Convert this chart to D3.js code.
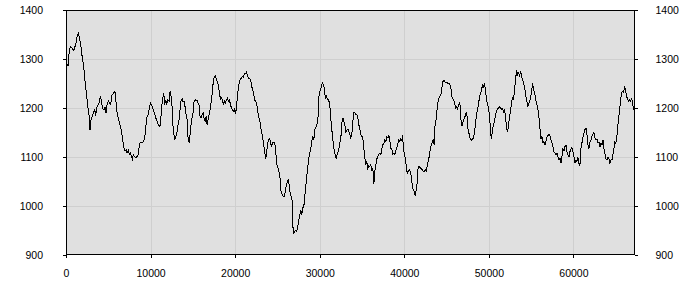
<!DOCTYPE html>
<html>
<head>
<meta charset="utf-8">
<script src="https://cdn.jsdelivr.net/npm/d3@7"></script>
<style>
  body { margin: 0; background: #fff; }
  svg { display: block; }
  .axis text { font-family: "Liberation Sans", Arial, sans-serif; font-size: 10.5px; fill: #000; }
  .axis line { stroke: #000; }
  .axis path { display: none; }
</style>
</head>
<body>
<div id="chart"></div>
<script>
// x positions of the samples
const positions = [
    0, 240, 400, 560, 755, 910, 1150, 1300, 1465, 1620, 1775, 1940, 2095, 2250, 2410, 2565, 2720, 2840,
    2961, 3119, 3277, 3395, 3513, 3592, 3750, 3908, 4065, 4184, 4341, 4499, 4617, 4736, 4854, 5012,
    5169, 5288, 5445, 5564, 5721, 5840, 5958, 6116, 6273, 6431, 6589, 6707, 6865, 6983, 7102, 7220,
    7378, 7496, 7614, 7732, 7851, 7969, 8087, 8245, 8403, 8560, 8679, 8837, 9034, 9191, 9310, 9428,
    9546, 9704, 9862, 9980, 10138, 10295, 10453, 10611, 10769, 10926, 11084,
    11163, 11281, 11439, 11557, 11676, 11794, 11912, 12031, 12188, 12307, 12425, 12543, 12622, 12740,
    12859, 12977, 13095, 13214, 13371, 13490, 13608, 13726, 13844, 13963, 14081, 14199, 14318, 14436,
    14554, 14672, 14791, 14909, 15027, 15146, 15264, 15382, 15500, 15619, 15737, 15855, 15974, 16092,
    16210, 16329, 16447, 16565, 16683, 16802, 16920, 17078, 17196, 17314, 17433, 17551, 17669, 17787,
    17906, 18024, 18142, 18261, 18379, 18497, 18616, 18734, 18852, 18970, 19089, 19207, 19325, 19444,
    19562, 19680, 19798, 19917, 20035, 20153, 20272, 20390, 20508, 20627, 20745, 20863, 20981, 21100,
    21218, 21336, 21455, 21573, 21691, 21809, 21928, 22046, 22164, 22283, 22401,
    22442, 22560, 22678, 22797, 22915, 23033, 23152, 23270, 23388, 23506, 23585, 23703, 23822, 23940,
    24058, 24177, 24295, 24413, 24531, 24650, 24768, 24886, 25005, 25123, 25241, 25359, 25438, 25557,
    25675, 25793, 25912, 26030, 26148, 26266, 26385, 26503, 26621, 26740, 26818, 26937, 27055, 27173,
    27292, 27410, 27528, 27646, 27765, 27883, 28001, 28120, 28238, 28356, 28474, 28593, 28711, 28829,
    28948, 29066, 29184, 29302, 29421, 29539, 29657, 29776, 29854, 29933, 30091, 30209, 30327, 30446,
    30564, 30682, 30801, 30919, 31037, 31155, 31274, 31353, 31471, 31589, 31708, 31826, 31944, 32063,
    32181, 32299, 32417, 32536, 32615, 32733, 32851, 32969, 33088, 33206, 33324, 33443, 33561, 33679,
    33798, 33916, 34034, 34153, 34271, 34389, 34508, 34626, 34744, 34862, 34981, 35099, 35217, 35336,
    35454, 35572, 35690, 35809, 35927, 36045, 36164, 36282, 36400, 36518, 36637, 36755, 36873, 36992,
    37110, 37228, 37346, 37465, 37583, 37701, 37820, 37938, 38056, 38175, 38293, 38411, 38529, 38648,
    38766, 38884, 39003, 39121, 39239, 39357, 39476, 39594, 39712, 39791, 39870, 39988, 40107, 40225,
    40343, 40462, 40580, 40698, 40816, 40935, 41053, 41171, 41290, 41408, 41526, 41644, 41763, 41881,
    41999, 42118, 42236, 42354, 42472, 42591, 42709, 42827, 42946, 43064, 43182, 43301, 43419, 43537,
    43616, 43734, 43853, 43971, 44089, 44207, 44326, 44444, 44562, 44681, 44799,
    44919, 45037, 45155, 45273, 45392, 45510, 45589, 45707, 45825, 45944, 46062, 46180, 46299, 46417,
    46535, 46654, 46732, 46851, 46969, 47087, 47206, 47324, 47442, 47521, 47639, 47758, 47876, 47994,
    48112, 48231, 48349, 48467, 48586, 48704, 48822, 48940, 49059, 49177, 49295, 49414, 49492, 49611,
    49729, 49847, 49966, 50084, 50202, 50320, 50439, 50557, 50675, 50794, 50912, 51030, 51149, 51267,
    51385, 51503, 51622, 51740, 51858, 51977, 52095, 52213, 52331, 52450, 52568, 52686, 52805, 52923,
    53041, 53160, 53278, 53396, 53514, 53633, 53751, 53869, 53988, 54106, 54224, 54343, 54461, 54579,
    54697, 54816, 54934, 55052, 55171, 55289, 55407, 55526, 55644, 55762, 55880, 55999, 56117,
    56158, 56276, 56394, 56512, 56631, 56749, 56867, 56986, 57104, 57222, 57340, 57459, 57577, 57695,
    57814, 57932, 58050, 58169, 58287, 58405, 58523, 58642, 58760, 58878, 58997, 59115, 59233, 59351,
    59470, 59588, 59706, 59825, 59943, 60061, 60180, 60298, 60416, 60534, 60653, 60771, 60889, 61008,
    61126, 61244, 61362, 61481, 61599, 61717, 61836, 61954, 62072, 62191, 62309, 62427, 62545, 62664,
    62782, 62900, 63019, 63137, 63255, 63373, 63492, 63610, 63728, 63847, 63965, 64083, 64202, 64320,
    64438, 64556, 64675, 64793, 64872, 64990, 65109, 65227, 65345, 65463, 65582, 65700, 65818, 65937,
    66055, 66173, 66292, 66410, 66528, 66647, 66765, 66883, 67001, 67080, 67159, 67198
];

// sample values
const values = [
    1292, 1287, 1319, 1325, 1322, 1317, 1330, 1345, 1352, 1340, 1325, 1300, 1285, 1255, 1230, 1205, 1185, 1155,
    1176, 1183, 1193, 1197, 1183, 1200, 1205, 1210, 1225, 1214, 1198, 1197, 1202, 1190, 1207, 1214,
    1210, 1207, 1227, 1229, 1233, 1232, 1200, 1183, 1173, 1163, 1149, 1135, 1118, 1112, 1115, 1108,
    1114, 1105, 1108, 1101, 1095, 1105, 1101, 1098, 1101, 1105, 1127, 1130, 1130, 1132, 1139, 1159,
    1180, 1186, 1200, 1210, 1205, 1197, 1190, 1180, 1173, 1166, 1163,
    1164, 1197, 1220, 1231, 1207, 1217, 1207, 1217, 1214, 1234, 1224, 1203, 1169, 1149,
    1135, 1142, 1146, 1163, 1176, 1197, 1216, 1219, 1212, 1214, 1202, 1186, 1176, 1139,
    1129, 1146, 1166, 1180, 1190, 1214, 1217, 1214, 1216, 1210, 1205, 1183, 1180, 1186,
    1190, 1178, 1173, 1183, 1166, 1176, 1186, 1200, 1217, 1234, 1258, 1263, 1266, 1258,
    1252, 1247, 1231, 1218, 1220, 1217, 1207, 1214, 1210, 1217, 1220, 1214, 1217, 1207,
    1200, 1197, 1193, 1197, 1188, 1200, 1224, 1244, 1254, 1259, 1261, 1265, 1263, 1270,
    1270, 1273, 1266, 1261, 1261, 1258, 1248, 1237, 1234, 1217, 1214,
    1214, 1207, 1193, 1180, 1176, 1159, 1149, 1139, 1122, 1112, 1096, 1105, 1125, 1135,
    1137, 1132, 1120, 1129, 1130, 1129, 1122, 1088, 1081, 1074, 1064, 1050, 1027, 1024,
    1020, 1020, 1027, 1040, 1047, 1054, 1044, 1027, 1020, 1010, 959, 945, 948, 950,
    948, 959, 972, 982, 992, 982, 996, 999, 1020, 1040, 1061, 1081, 1098, 1108,
    1118, 1132, 1142, 1135, 1156, 1159, 1166, 1176, 1197, 1231, 1237, 1246, 1251, 1248,
    1237, 1218, 1224, 1217, 1217, 1210, 1193, 1169, 1149, 1129, 1115, 1105, 1096, 1105,
    1112, 1120, 1132, 1146, 1169, 1180, 1173, 1166, 1152, 1154, 1157, 1152, 1146, 1139,
    1146, 1173, 1190, 1191, 1186, 1186, 1181, 1166, 1156, 1146, 1142, 1139, 1118, 1098,
    1084, 1091, 1077, 1082, 1081, 1084, 1071, 1078, 1044, 1071, 1084, 1096, 1101, 1105,
    1108, 1105, 1118, 1125, 1127, 1135, 1132, 1142, 1139, 1144, 1132, 1118, 1115, 1105,
    1108, 1105, 1113, 1120, 1128, 1135, 1132, 1137, 1134, 1144, 1125, 1108, 1098, 1084,
    1067, 1071, 1074, 1071, 1061, 1044, 1033, 1030, 1020, 1033, 1047, 1081, 1080, 1078,
    1076, 1074, 1071, 1071, 1074, 1071, 1081, 1091, 1101, 1115, 1125, 1130, 1135, 1125,
    1162, 1173, 1193, 1210, 1220, 1224, 1227, 1241, 1254, 1256, 1254,
    1251, 1253, 1250, 1251, 1248, 1241, 1224, 1220, 1217, 1210, 1200, 1203, 1198, 1207,
    1210, 1200, 1164, 1164, 1173, 1178, 1184, 1190, 1181, 1159, 1149, 1139, 1136, 1134,
    1137, 1143, 1156, 1176, 1190, 1200, 1214, 1225, 1231, 1241, 1248, 1241, 1250, 1235,
    1214, 1210, 1197, 1186, 1149, 1137, 1159, 1166, 1173, 1186, 1193, 1198, 1200, 1203,
    1200, 1197, 1198, 1193, 1197, 1180, 1159, 1152, 1166, 1183, 1193, 1214, 1220, 1218,
    1238, 1258, 1277, 1268, 1272, 1266, 1275, 1265, 1258, 1251, 1243, 1227, 1217, 1204,
    1206, 1214, 1220, 1234, 1250, 1237, 1232, 1217, 1210, 1200, 1190, 1166, 1146,
    1137, 1142, 1129, 1132, 1124, 1132, 1140, 1144, 1147, 1144, 1135, 1129, 1122, 1110,
    1108, 1104, 1108, 1101, 1094, 1098, 1087, 1101, 1117, 1112, 1121, 1125, 1111, 1104,
    1100, 1111, 1116, 1119, 1111, 1101, 1087, 1094, 1091, 1099, 1087, 1083, 1117, 1129,
    1140, 1149, 1156, 1159, 1146, 1125, 1117, 1131, 1135, 1142, 1147, 1150, 1139, 1135,
    1137, 1129, 1131, 1121, 1128, 1125, 1135, 1117, 1106, 1096, 1094, 1099, 1096, 1087,
    1094, 1094, 1105, 1118, 1133, 1128, 1135, 1161, 1180, 1197, 1218, 1231, 1234, 1232,
    1244, 1234, 1224, 1217, 1214, 1217, 1214, 1221, 1210, 1200, 1197, 1187
];

const xTicks = [0, 10000, 20000, 30000, 40000, 50000, 60000];
const yTicks = [900, 1000, 1100, 1200, 1300, 1400];
const xMax = 67220;

const width = 700, height = 300;
const margin = { top: 10, right: 65.5, bottom: 45, left: 66 };
const innerW = width - margin.left - margin.right;
const innerH = height - margin.top - margin.bottom;

const svg = d3.select("#chart").append("svg")
    .attr("width", width)
    .attr("height", height);

const g = svg.append("g")
    .attr("transform", `translate(${margin.left},${margin.top})`);

const x = d3.scaleLinear().domain([0, xMax]).range([0, innerW]);
const y = d3.scaleLinear().domain([900, 1400]).range([innerH, 0]);

// plot background
g.append("rect")
    .attr("width", innerW)
    .attr("height", innerH)
    .attr("fill", "#e0e0e0");

// grid
g.append("g")
    .selectAll("line")
    .data(xTicks.filter(d => d > 0))
    .join("line")
    .attr("x1", d => Math.round(x(d)) + 0.5)
    .attr("x2", d => Math.round(x(d)) + 0.5)
    .attr("y1", 0)
    .attr("y2", innerH)
    .attr("stroke", "#cfcfcf");

g.append("g")
    .selectAll("line")
    .data(yTicks.filter(d => d > 900 && d < 1400))
    .join("line")
    .attr("y1", d => Math.round(y(d)) + 0.5)
    .attr("y2", d => Math.round(y(d)) + 0.5)
    .attr("x1", 0)
    .attr("x2", innerW)
    .attr("stroke", "#cfcfcf");

// data line
const line = d3.line()
    .x((d, i) => x(positions[i]))
    .y(d => y(d));

g.append("path")
    .datum(values)
    .attr("fill", "none")
    .attr("stroke", "#000")
    .attr("stroke-width", 1)
    .attr("shape-rendering", "crispEdges")
    .attr("d", line);

// frame
g.append("rect")
    .attr("x", 0.5)
    .attr("y", 0.5)
    .attr("width", innerW - 1)
    .attr("height", innerH - 1)
    .attr("fill", "none")
    .attr("stroke", "#000")
    .attr("shape-rendering", "crispEdges");

// axes
const fmt = d3.format("d");

g.append("g")
    .attr("class", "axis")
    .call(d3.axisLeft(y).tickValues(yTicks).tickFormat(fmt).tickSize(3).tickPadding(20))
    .selectAll("line").attr("shape-rendering", "crispEdges");

g.append("g")
    .attr("class", "axis")
    .attr("transform", `translate(${innerW},0)`)
    .call(d3.axisRight(y).tickValues(yTicks).tickFormat(fmt).tickSize(3).tickPadding(18))
    .selectAll("line").attr("shape-rendering", "crispEdges");

g.append("g")
    .attr("class", "axis")
    .attr("transform", `translate(0,${innerH})`)
    .call(d3.axisBottom(x).tickValues(xTicks).tickFormat(fmt).tickSize(3).tickPadding(12))
    .selectAll("line").attr("shape-rendering", "crispEdges");
</script>
</body>
</html>
